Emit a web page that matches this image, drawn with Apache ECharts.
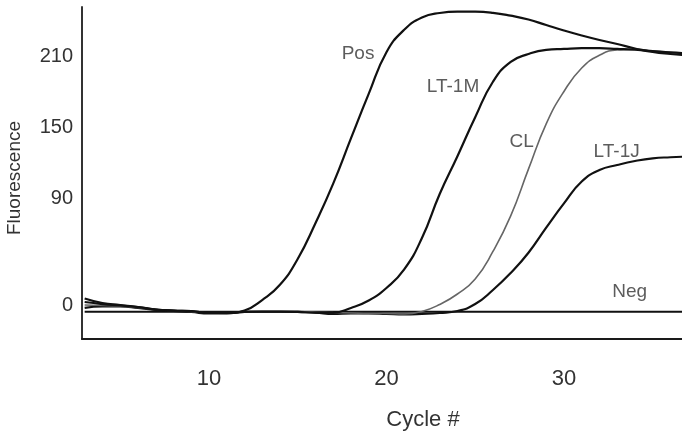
<!DOCTYPE html>
<html>
<head>
<meta charset="utf-8">
<script src="https://cdn.jsdelivr.net/npm/echarts@6/dist/echarts.min.js"></script>
<style>
  html, body { margin: 0; padding: 0; background: #fff; }
  #chart { width: 682px; height: 437px; }
</style>
</head>
<body>
<div id="chart"></div>
<script>
// Amplification curves: fluorescence per PCR cycle
const cycles = [3, 4, 5, 6, 7, 8, 9, 10, 11, 12, 13, 14, 15, 16, 17, 18, 19, 20,
                21, 22, 23, 24, 25, 26, 27, 28, 29, 30, 31, 32, 33, 34, 35, 36, 37];

const pos  = [5.5, 1.7, 0, -1.7, -3.8, -4.7, -5.1, -6.8, -6.8, -4.7, 4.2, 17.1, 38.9, 69.2, 102.7, 141, 178.7, 214,
              233, 243.4, 247.2, 248.3, 248.3, 247.4, 245, 241.7, 237, 232.4, 228.2, 224.4, 221, 217.2, 214.2, 212.5, 211.3];
const lt1m = [2.5, 0.8, -0.4, -1.7, -3.8, -4.7, -5.1, -6.8, -6.8, -5.9, -5.7, -5.7, -5.9, -6.4, -6.4, -2.5, 3.8, 14.4,
              30.1, 56.7, 94, 126, 159, 189, 205.8, 212.5, 216, 216.8, 217.4, 217.4, 216.8, 216.1, 215, 213.8, 213];
const cl   = [0, -0.4, -0.8, -2.1, -3.8, -4.7, -5.5, -6.8, -7.2, -5.9, -5.7, -5.7, -5.7, -5.9, -6.4, -6.8, -7.2, -7.2,
              -7.6, -5.5, 0.4, 9.3, 22, 45.3, 75.4, 115, 153.4, 180.8, 200.7, 211.4, 215.9, 216.3, 215, 213.8, 212.5];
const lt1j = [-2.5, -1.3, -1.3, -2.5, -4.2, -5.1, -5.9, -7.2, -7.2, -5.9, -5.9, -5.9, -5.9, -6.4, -7.6, -7.2, -7.2, -7.6,
              -8, -7.6, -6.8, -5.1, 0.8, 12.7, 27.1, 44.2, 65.5, 86, 104.5, 114.3, 118.5, 121.9, 124.2, 125.1, 125.7];
const neg  = [-5.7, -5.7, -5.7, -5.7, -5.7, -5.7, -5.7, -5.7, -5.7, -5.7, -5.7, -5.7, -5.7, -5.7, -5.7, -5.7, -5.7, -5.7,
              -5.7, -5.7, -5.7, -5.7, -5.7, -5.7, -5.7, -5.7, -5.7, -5.7, -5.7, -5.7, -5.7, -5.7, -5.7, -5.7, -5.7];

const seriesNames = ['Pos', 'LT-1M', 'CL', 'LT-1J', 'Neg'];
const yTicks = [0, 90, 150, 210];
const xTicks = [10, 20, 30];

// where each curve's name is written (cycle, fluorescence)
const nameSpots = [[18.4, 213], [23.75, 184.8], [27.62, 138.4], [32.97, 129.8], [33.7, 11]];

const zip = arr => cycles.map((c, i) => [c, arr[i]]);
const font = '"Liberation Sans", Arial, sans-serif';

const curve = (name, arr, color, width) => ({
  name, type: 'line', data: zip(arr), smooth: 0.5, showSymbol: false, symbol: 'none',
  lineStyle: { color, width }, silent: true, z: 3
});

const chart = echarts.init(document.getElementById('chart'), null, { renderer: 'canvas' });
chart.setOption({
  animation: false,
  backgroundColor: '#fff',
  grid: { left: 82, right: 0, top: 7, bottom: 98 },
  xAxis: {
    type: 'value', min: 2.85, max: 36.65,
    axisLine: { show: true, onZero: false, lineStyle: { color: '#1a1a1a', width: 2 } },
    axisTick: { show: false },
    splitLine: { show: false },
    axisLabel: { customValues: xTicks, margin: 29, fontSize: 22, fontFamily: font, color: '#333' }
  },
  yAxis: {
    type: 'value', min: -28.8, max: 252.3,
    axisLine: { show: true, onZero: false, lineStyle: { color: '#333', width: 2 } },
    axisTick: { show: false },
    splitLine: { show: false },
    axisLabel: { customValues: yTicks, margin: 9, fontSize: 20, fontFamily: font, color: '#333' }
  },
  series: [
    curve('Neg', neg, '#111', 2),
    curve('LT-1J', lt1j, '#111', 2.2),
    curve('CL', cl, '#666', 1.6),
    curve('LT-1M', lt1m, '#111', 2.2),
    curve('Pos', pos, '#111', 2.2),
    {
      type: 'scatter', symbolSize: 0, silent: true, z: 4,
      data: nameSpots.map((p, i) => ({ value: p, name: seriesNames[i] })),
      label: {
        show: true, position: 'inside', formatter: p => p.name,
        fontSize: 19, fontFamily: font, color: '#333'
      }
    }
  ],
  graphic: [
    {
      type: 'text', x: 15, y: 178, rotation: Math.PI / 2,
      style: { text: 'Fluorescence', font: '19px ' + font, fill: '#333', align: 'center', verticalAlign: 'middle' }
    },
    {
      type: 'text', x: 423, y: 420,
      style: { text: 'Cycle #', font: '22px ' + font, fill: '#333', align: 'center', verticalAlign: 'middle' }
    }
  ]
});
</script>
</body>
</html>
